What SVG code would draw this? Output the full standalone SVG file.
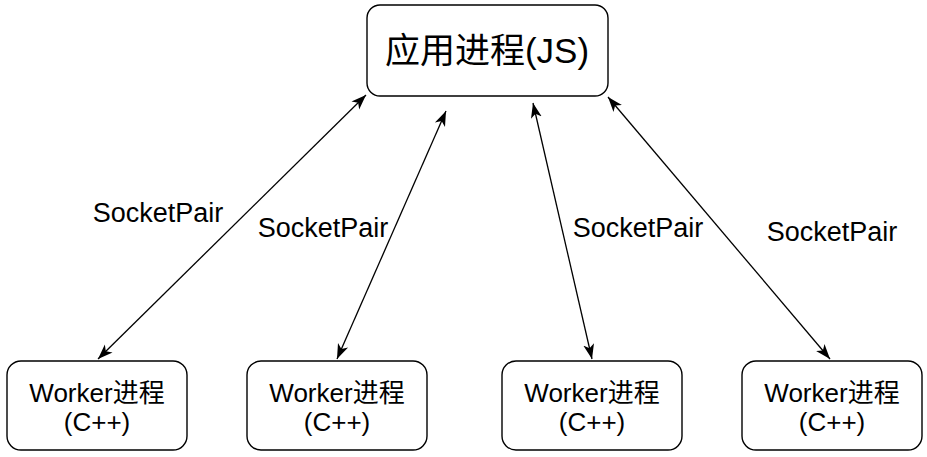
<svg xmlns="http://www.w3.org/2000/svg" width="927" height="457" viewBox="0 0 927 457">
<style>
.box{fill:#fff;stroke:#000;stroke-width:1.4}
.t{font-family:"Liberation Sans","Noto Sans CJK SC",sans-serif;fill:#000;text-anchor:middle}
.edge{stroke:#000;stroke-width:1.3;fill:none;marker-start:url(#ah);marker-end:url(#ah)}
</style>
<defs>
<marker id="ah" markerUnits="userSpaceOnUse" markerWidth="16" markerHeight="14" viewBox="0 0 16 14" refX="15" refY="7" orient="auto-start-reverse">
<path d="M0,1.5 L15,7 L0,12.5 L4,7 z" fill="#000"/>
</marker>
</defs>
<g id="edges">
<line class="edge" x1="98" y1="359" x2="366" y2="95"/>
<line class="edge" x1="337" y1="359" x2="446" y2="111"/>
<line class="edge" x1="592" y1="359" x2="533" y2="103"/>
<line class="edge" x1="830" y1="359" x2="608" y2="97"/>
</g>
<g id="labels">
<text class="t" x="158" y="222" font-size="27">SocketPair</text>
<text class="t" x="323" y="237" font-size="27">SocketPair</text>
<text class="t" x="638" y="237" font-size="27">SocketPair</text>
<text class="t" x="832" y="241" font-size="27">SocketPair</text>
</g>
<g id="app">
<rect class="box" x="367" y="5" width="241" height="91" rx="13"/>
<text class="t" x="487" y="63" font-size="35">应用进程(JS)</text>
</g>
<g id="worker1">
<rect class="box" x="7" y="361" width="180" height="89" rx="14"/>
<text class="t" x="97" y="402" font-size="26">Worker进程</text>
<text class="t" x="97" y="431" font-size="26">(C++)</text>
</g>
<g id="worker2">
<rect class="box" x="247" y="361" width="180" height="89" rx="14"/>
<text class="t" x="337" y="402" font-size="26">Worker进程</text>
<text class="t" x="337" y="431" font-size="26">(C++)</text>
</g>
<g id="worker3">
<rect class="box" x="502" y="361" width="180" height="89" rx="14"/>
<text class="t" x="592" y="402" font-size="26">Worker进程</text>
<text class="t" x="592" y="431" font-size="26">(C++)</text>
</g>
<g id="worker4">
<rect class="box" x="742" y="361" width="180" height="89" rx="14"/>
<text class="t" x="832" y="402" font-size="26">Worker进程</text>
<text class="t" x="832" y="431" font-size="26">(C++)</text>
</g>
</svg>
